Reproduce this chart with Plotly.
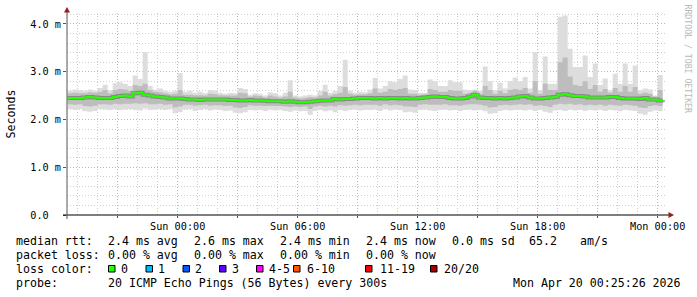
import plotly.graph_objects as go
import pandas as pd

# ---------------- data ----------------
start = pd.Timestamp("2026-04-18 18:30")
times = pd.date_range(start, periods=120, freq="15min")

median_ms = [
    2.45, 2.45, 2.45, 2.46, 2.47, 2.46, 2.45, 2.45, 2.45, 2.47,
    2.49, 2.50, 2.48, 2.55, 2.56, 2.52, 2.50, 2.48, 2.47, 2.46,
    2.44, 2.44, 2.44, 2.43, 2.42, 2.42, 2.41, 2.42, 2.42, 2.42,
    2.42, 2.42, 2.41, 2.41, 2.40, 2.40, 2.41, 2.40, 2.40, 2.39,
    2.38, 2.38, 2.38, 2.37, 2.38, 2.37, 2.36, 2.36, 2.37, 2.38,
    2.39, 2.40, 2.40, 2.43, 2.42, 2.43, 2.43, 2.44, 2.45, 2.45,
    2.45, 2.44, 2.45, 2.44, 2.45, 2.45, 2.44, 2.45, 2.44, 2.44,
    2.45, 2.46, 2.47, 2.48, 2.47, 2.47, 2.45, 2.44, 2.44, 2.45,
    2.48, 2.52, 2.46, 2.45, 2.45, 2.44, 2.45, 2.44, 2.45, 2.46,
    2.48, 2.49, 2.46, 2.44, 2.44, 2.45, 2.46, 2.47, 2.52, 2.53,
    2.51, 2.49, 2.49, 2.48, 2.46, 2.46, 2.46, 2.46, 2.47, 2.47,
    2.45, 2.44, 2.44, 2.44, 2.43, 2.45, 2.42, 2.42, 2.40, 2.41,
]
max_ms = [
    2.60, 2.63, 2.62, 2.60, 2.63, 2.60, 2.66, 2.73, 2.62, 2.76,
    2.78, 2.75, 2.70, 2.92, 2.85, 3.41, 2.70, 2.63, 2.65, 2.60,
    2.58, 2.60, 2.97, 2.58, 2.60, 2.56, 2.58, 2.55, 2.62, 2.60,
    2.56, 2.54, 2.56, 2.55, 2.66, 2.64, 2.52, 2.55, 2.54, 2.50,
    2.57, 2.55, 2.50, 2.56, 2.82, 2.50, 2.48, 2.50, 2.52, 2.50,
    2.60, 2.73, 2.56, 2.60, 2.70, 3.25, 2.60, 2.56, 2.58, 2.57,
    2.63, 2.87, 2.65, 2.70, 2.80, 2.78, 2.85, 2.92, 2.63, 2.62,
    2.56, 2.56, 2.84, 2.80, 2.70, 2.70, 2.82, 2.78, 2.78, 2.63,
    2.62, 2.63, 2.60, 3.11, 2.80, 2.62, 2.77, 2.65, 2.80, 2.88,
    2.80, 2.89, 2.65, 3.41, 2.61, 3.32, 2.75, 2.75, 4.15, 4.18,
    3.48, 3.10, 3.10, 3.34, 2.89, 3.17, 2.72, 2.86, 2.61, 2.96,
    2.75, 3.17, 2.75, 3.13, 2.62, 2.65, 2.63, 2.50, 2.93, 2.90,
]
hi_ms = [
    2.55, 2.56, 2.55, 2.55, 2.57, 2.56, 2.58, 2.62, 2.55, 2.62,
    2.64, 2.63, 2.60, 2.72, 2.70, 2.75, 2.62, 2.58, 2.57, 2.55,
    2.53, 2.54, 2.62, 2.52, 2.52, 2.51, 2.51, 2.50, 2.54, 2.53,
    2.51, 2.50, 2.50, 2.50, 2.56, 2.55, 2.48, 2.50, 2.49, 2.46,
    2.50, 2.48, 2.46, 2.48, 2.58, 2.46, 2.44, 2.45, 2.47, 2.46,
    2.50, 2.58, 2.50, 2.53, 2.56, 2.68, 2.54, 2.52, 2.53, 2.53,
    2.55, 2.65, 2.56, 2.58, 2.64, 2.62, 2.64, 2.66, 2.54, 2.54,
    2.52, 2.53, 2.64, 2.62, 2.58, 2.58, 2.62, 2.60, 2.60, 2.54,
    2.56, 2.60, 2.54, 2.70, 2.62, 2.54, 2.60, 2.55, 2.62, 2.64,
    2.62, 2.66, 2.56, 2.80, 2.54, 2.75, 2.62, 2.62, 3.20, 3.30,
    2.90, 2.72, 2.70, 2.80, 2.64, 2.72, 2.58, 2.64, 2.56, 2.66,
    2.58, 2.70, 2.58, 2.68, 2.54, 2.56, 2.54, 2.48, 2.62, 2.60,
]
lo_ms = [
    2.32, 2.31, 2.32, 2.28, 2.27, 2.29, 2.32, 2.32, 2.31, 2.33,
    2.32, 2.33, 2.33, 2.34, 2.33, 2.34, 2.32, 2.32, 2.33, 2.31,
    2.32, 2.25, 2.27, 2.31, 2.31, 2.29, 2.30, 2.31, 2.29, 2.30,
    2.30, 2.28, 2.29, 2.25, 2.24, 2.26, 2.30, 2.29, 2.29, 2.28,
    2.29, 2.28, 2.28, 2.27, 2.26, 2.27, 2.26, 2.27, 2.22, 2.27,
    2.29, 2.27, 2.29, 2.27, 2.30, 2.29, 2.30, 2.31, 2.30, 2.31,
    2.31, 2.31, 2.29, 2.32, 2.30, 2.31, 2.30, 2.27, 2.27, 2.26,
    2.31, 2.32, 2.31, 2.31, 2.31, 2.32, 2.30, 2.30, 2.29, 2.31,
    2.32, 2.32, 2.31, 2.29, 2.25, 2.26, 2.30, 2.31, 2.30, 2.31,
    2.32, 2.31, 2.32, 2.29, 2.30, 2.28, 2.26, 2.31, 2.33, 2.32,
    2.33, 2.31, 2.32, 2.30, 2.31, 2.30, 2.31, 2.29, 2.31, 2.30,
    2.29, 2.31, 2.30, 2.29, 2.25, 2.24, 2.28, 2.30, 2.28, 2.30,
]
min_ms = [
    2.22, 2.20, 2.22, 2.17, 2.16, 2.18, 2.22, 2.21, 2.20, 2.22,
    2.20, 2.21, 2.22, 2.20, 2.19, 2.23, 2.20, 2.21, 2.22, 2.20,
    2.22, 2.13, 2.15, 2.21, 2.22, 2.18, 2.20, 2.22, 2.19, 2.21,
    2.20, 2.18, 2.19, 2.14, 2.13, 2.15, 2.20, 2.19, 2.20, 2.18,
    2.21, 2.19, 2.20, 2.18, 2.16, 2.19, 2.17, 2.18, 2.10, 2.18,
    2.20, 2.17, 2.19, 2.15, 2.20, 2.18, 2.20, 2.21, 2.19, 2.20,
    2.20, 2.21, 2.18, 2.22, 2.19, 2.21, 2.20, 2.15, 2.16, 2.14,
    2.20, 2.21, 2.19, 2.18, 2.20, 2.21, 2.19, 2.20, 2.18, 2.20,
    2.21, 2.19, 2.20, 2.17, 2.12, 2.13, 2.18, 2.20, 2.19, 2.20,
    2.20, 2.19, 2.21, 2.18, 2.20, 2.16, 2.14, 2.19, 2.20, 2.18,
    2.21, 2.19, 2.20, 2.18, 2.20, 2.19, 2.21, 2.18, 2.20, 2.19,
    2.17, 2.20, 2.19, 2.18, 2.12, 2.10, 2.16, 2.19, 2.18, 2.20,
]

y_tick_vals = [0, 1, 2, 3, 4]
y_tick_text = ["0.0\u00a0\u00a0", "1.0 m", "2.0 m", "3.0 m", "4.0 m"]
x_tick_vals = list(pd.date_range("2026-04-18 21:00", "2026-04-20 00:00", freq="3h"))
x_tick_text = ["", "Sun 00:00", "", "Sun 06:00", "", "Sun 12:00", "", "Sun 18:00", "", "Mon 00:00"]

unit_label = "Seconds"
watermark = "RRDTOOL / TOBI OETIKER"
rtt_row = ["median rtt:", "2.4 ms avg", "2.6 ms max", "2.4 ms min", "2.4 ms now", "0.0 ms sd", "65.2", "am/s"]
loss_row = ["packet loss:", "0.00 % avg", "0.00 % max", "0.00 % min", "0.00 % now"]
loss_title = "loss color:"
loss_labels = ["0", "1", "2", "3", "4-5", "6-10", "11-19", "20/20"]
loss_colors = ["#26ff00", "#00b8ff", "#0059ff", "#5e00ff", "#ff00ff", "#ff5500", "#ff0000", "#a10000"]
probe_row = ["probe:", "20 ICMP Echo Pings (56 Bytes) every 300s"]
date_text = "Mon Apr 20 00:25:26 2026"

# ---------------- figure ----------------
W, H = 697, 297
L, R, T, B = 67, 30, 13, 82
PW, PH = W - L - R, H - T - B


def px(x):
    return (x - L) / PW


def py(y):
    return (H - B - y) / PH


MONO = "DejaVu Sans Mono"

fig = go.Figure()
fig.add_trace(go.Scatter(x=times, y=max_ms, mode="lines", line=dict(width=0, shape="hv"),
                         hoverinfo="skip", showlegend=False))
fig.add_trace(go.Scatter(x=times, y=min_ms, mode="lines", line=dict(width=0, shape="hv"),
                         fill="tonexty", fillcolor="#dddddd", hoverinfo="skip", showlegend=False))
fig.add_trace(go.Scatter(x=times, y=hi_ms, mode="lines", line=dict(width=0, shape="hv"),
                         hoverinfo="skip", showlegend=False))
fig.add_trace(go.Scatter(x=times, y=lo_ms, mode="lines", line=dict(width=0, shape="hv"),
                         fill="tonexty", fillcolor="#bdbdbd", hoverinfo="skip", showlegend=False))
fig.add_trace(go.Scatter(x=times, y=median_ms, mode="lines",
                         line=dict(width=4, shape="hv", color="rgba(70,70,70,0.45)"),
                         hoverinfo="skip", showlegend=False))
fig.add_trace(go.Scatter(x=times, y=median_ms, mode="lines",
                         line=dict(width=2, shape="hv", color=loss_colors[0]),
                         showlegend=False))

grid_minor = "#cfcfcf"
grid_major = "#e4a4a4"

fig.update_layout(
    width=W, height=H, autosize=False,
    margin=dict(l=L, r=R, t=T, b=B, pad=0),
    paper_bgcolor="white", plot_bgcolor="white",
    font=dict(family=MONO, size=11.6, color="black"),
    xaxis=dict(
        type="date",
        range=[pd.Timestamp("2026-04-18 18:28"), pd.Timestamp("2026-04-20 00:28")],
        tickmode="array", tickvals=x_tick_vals, ticktext=x_tick_text,
        showgrid=True, gridcolor=grid_major, griddash="1px,2px", gridwidth=1,
        ticks="outside", ticklen=2, tickcolor="#555555",
        tickfont=dict(family=MONO, size=10.2, color="black"),
        showline=False, zeroline=False,
        minor=dict(dtick=3600000, tick0="2026-04-18 00:00", showgrid=True,
                   gridcolor=grid_minor, griddash="1px,2px", gridwidth=1, ticks=""),
        fixedrange=True,
    ),
    yaxis=dict(
        range=[0, 4.23],
        tickmode="array", tickvals=y_tick_vals, ticktext=y_tick_text,
        showgrid=True, gridcolor=grid_major, griddash="1px,2px", gridwidth=1,
        ticks="outside", ticklen=3, tickcolor="#555555",
        tickfont=dict(family=MONO, size=10.2, color="black"),
        showline=False, zeroline=False,
        minor=dict(dtick=0.2, tick0=0, showgrid=True,
                   gridcolor=grid_minor, griddash="1px,2px", gridwidth=1, ticks=""),
        fixedrange=True,
    ),
)

shapes = []
# axes
shapes.append(dict(type="line", xref="paper", yref="paper", x0=px(63), x1=px(671), y0=py(215), y1=py(215),
                   line=dict(color="black", width=1), layer="above"))
shapes.append(dict(type="line", xref="paper", yref="paper", x0=px(67), x1=px(67), y0=py(219), y1=py(10),
                   line=dict(color="#555555", width=1), layer="above"))
# arrows
arrow_col = "#9a1c1c"
shapes.append(dict(type="path", xref="paper", yref="paper",
                   path=f"M{px(67)},{py(7)} L{px(64)},{py(12.5)} L{px(70)},{py(12.5)} Z",
                   fillcolor=arrow_col, line=dict(width=0), layer="above"))
shapes.append(dict(type="path", xref="paper", yref="paper",
                   path=f"M{px(674)},{py(215)} L{px(668.5)},{py(212)} L{px(668.5)},{py(218)} Z",
                   fillcolor=arrow_col, line=dict(width=0), layer="above"))

# loss color squares
sq_x = [108.5, 146, 183, 219.5, 256.5, 293.5, 365.5, 430.5]
for xs, col in zip(sq_x, loss_colors):
    shapes.append(dict(type="rect", xref="paper", yref="paper",
                       x0=px(xs), x1=px(xs + 6.5), y0=py(272), y1=py(265.5),
                       fillcolor=col, line=dict(color="black", width=1)))
fig.update_layout(shapes=shapes)

ann = []


def text(s, x, y, size=11.6, color="black", angle=0, xanchor="left"):
    ann.append(dict(text=s, xref="paper", yref="paper", x=px(x), y=py(y), xanchor=xanchor,
                    yanchor="middle", showarrow=False, textangle=angle,
                    font=dict(family=MONO, size=size, color=color), borderpad=0))


rows_y = [241, 255, 269, 283]
rtt_x = [15, 106.5, 192.5, 278.5, 364.5, 451, 527.5, 578.5]
for s, x in zip(rtt_row, rtt_x):
    text(s, x, rows_y[0])
loss_x = [15, 106.5, 192.5, 278.5, 364.5]
for s, x in zip(loss_row, loss_x):
    text(s, x, rows_y[1])
text(loss_title, 15, rows_y[2])
lab_x = [119.5, 157, 194, 231, 268, 305.5, 378.5, 443.5]
for s, x in zip(loss_labels, lab_x):
    text(s, x, rows_y[2])
text(probe_row[0], 15, rows_y[3])
text(probe_row[1], 106.5, rows_y[3])
text(date_text, 512, rows_y[3])

text(unit_label, 10.5, 114, angle=-90, xanchor="center")
text(watermark, 687.5, 59, size=8.2, color="#b8b8b8", angle=90, xanchor="center")

fig.update_layout(annotations=ann)

fig.write_html("out.html")
